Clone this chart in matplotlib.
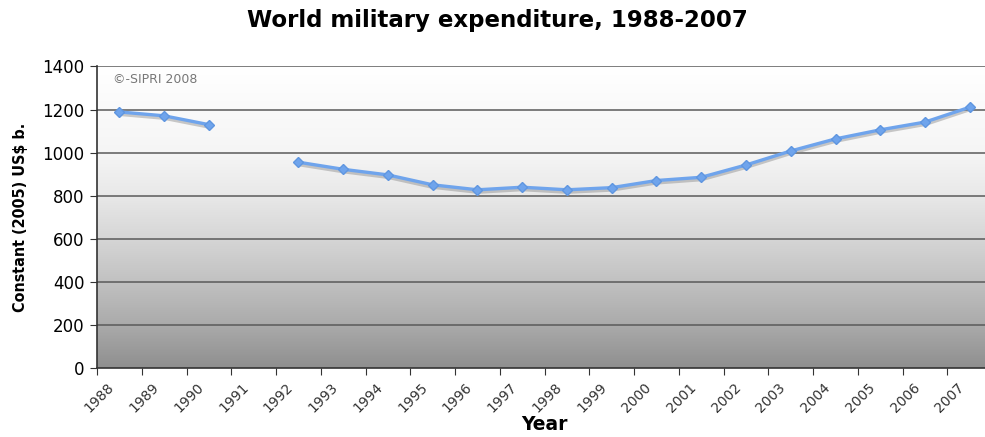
import numpy as np
import matplotlib.pyplot as plt
import matplotlib.transforms as mtransforms
from matplotlib.colors import LinearSegmentedColormap

# World military expenditure, constant (2005) US$ b. -- 1991 missing
years = list(range(1988, 2008))
spending = [1189, 1171, 1130, np.nan, 956, 923, 897, 851, 828, 840,
            828, 838, 871, 886, 943, 1008, 1064, 1106, 1142, 1211]
year_labels = [str(y) for y in years]
y_ticks = [0, 200, 400, 600, 800, 1000, 1200, 1400]

fig = plt.figure(figsize=(9.85, 4.37), dpi=100)
ax = fig.add_axes([0.0985, 0.157, 0.9015, 0.691])

n = len(years)
xmax = 19.84
ax.set_xlim(0, xmax)
ax.set_ylim(0, 1400)

# gradient background, white at top to grey at bottom
bg = LinearSegmentedColormap.from_list(
    'bg', [(0, '#8f8f8f'), (0.14, '#aaaaaa'), (0.29, '#c2c2c2'),
           (0.43, '#d6d6d6'), (0.57, '#e8e8e8'), (0.71, '#f5f5f5'),
           (1, '#ffffff')])
grad = np.linspace(0, 1, 256).reshape(-1, 1)
ax.imshow(grad, extent=[0, xmax, 0, 1400], aspect='auto', origin='lower',
          cmap=bg, zorder=0)

# gridlines
for v in y_ticks[1:]:
    ax.axhline(v, color='#5a5a5a', lw=1.1, zorder=1)

x = np.arange(n) + 0.5
vals = np.array(spending, dtype=float)

# soft shadow under the line
shadow = mtransforms.offset_copy(ax.transData, fig=fig, x=0, y=-2, units='dots')
ax.plot(x, vals, color='#8a8a8a', lw=3, alpha=0.45, transform=shadow, zorder=2)
ax.plot(x, vals, color='#6fa4ec', lw=2.4, marker='D', markersize=5.5,
        markerfacecolor='#6fa4ec', markeredgecolor='#5f96e0', zorder=3)

ax.text(0.35, 1325, '©-SIPRI 2008', fontsize=9, color='#777777', zorder=4)

# axes styling
for s in ['top', 'right']:
    ax.spines[s].set_visible(False)
ax.spines['left'].set_color('#333333')
ax.spines['bottom'].set_color('#333333')
ax.spines['left'].set_linewidth(1.2)
ax.spines['bottom'].set_linewidth(1.2)

ax.set_yticks(y_ticks)
ax.set_yticklabels([str(v) for v in y_ticks], fontsize=12)
ax.tick_params(axis='y', length=5, color='#333333', pad=4)

ax.set_xticks(np.arange(n))
ax.set_xticklabels(year_labels, rotation=45, ha='right', rotation_mode='anchor',
                   fontsize=10, color='#333333')
ax.tick_params(axis='x', length=5, color='#333333', pad=2)
offset = mtransforms.ScaledTranslation(10 / 100, -2 / 100, fig.dpi_scale_trans)
for lab in ax.get_xticklabels():
    lab.set_transform(lab.get_transform() + offset)

ax.set_ylabel('Constant (2005) US$ b.', fontsize=11.5, fontweight='bold',
              fontstretch='condensed')
ax.yaxis.set_label_coords(-0.078, 0.5)
fig.text(0.553, 0.008, 'Year', ha='center', va='bottom', fontsize=13.5,
         fontweight='bold')
fig.text(0.505, 0.952, 'World military expenditure, 1988-2007', ha='center',
         va='center', fontsize=16.5, fontweight='bold')

fig.savefig('out.png', dpi=100)
